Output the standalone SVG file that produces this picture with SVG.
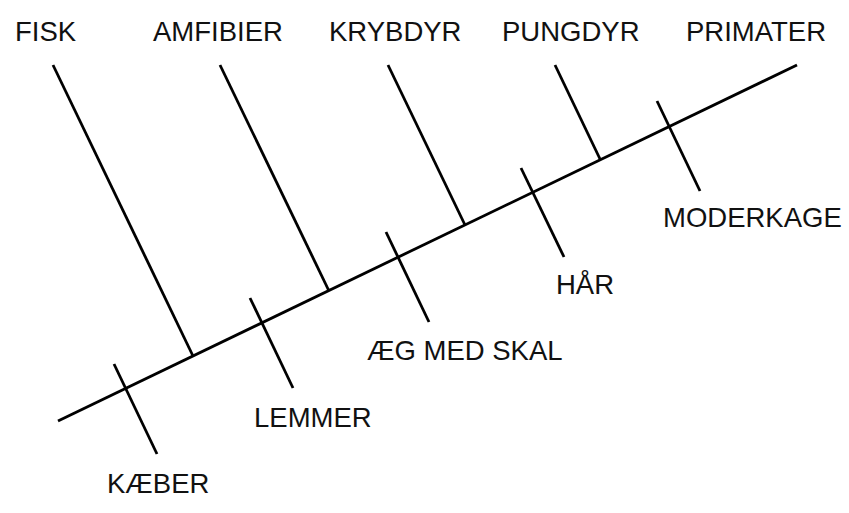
<svg xmlns="http://www.w3.org/2000/svg" width="849" height="513" viewBox="0 0 849 513">
<style>
.l{stroke:#000;stroke-width:2.8;stroke-linecap:butt;fill:none}
.t{font-family:"Liberation Sans",Arial,sans-serif;font-size:27.5px;fill:#111}
</style>
<rect width="849" height="513" fill="#fff"/>
<g id="connectors">
<line class="l" x1="58" y1="421" x2="797" y2="65"/>
<line class="l" x1="53" y1="65" x2="193" y2="356"/>
<line class="l" x1="220" y1="65" x2="329" y2="291"/>
<line class="l" x1="388" y1="65" x2="465" y2="225"/>
<line class="l" x1="555" y1="65" x2="600" y2="159"/>
<line class="l" x1="114" y1="364" x2="157" y2="454"/>
<line class="l" x1="250" y1="298" x2="293" y2="388"/>
<line class="l" x1="386" y1="232" x2="429" y2="322"/>
<line class="l" x1="521" y1="168" x2="564" y2="257"/>
<line class="l" x1="657" y1="101" x2="700" y2="191"/>
</g>
<g id="fisk"><text class="t" x="15" y="41">FISK</text></g>
<g id="amfibier"><text class="t" x="153" y="41">AMFIBIER</text></g>
<g id="krybdyr"><text class="t" x="329" y="41">KRYBDYR</text></g>
<g id="pungdyr"><text class="t" x="502" y="41">PUNGDYR</text></g>
<g id="primater"><text class="t" x="686" y="41">PRIMATER</text></g>
<g id="kaeber"><text class="t" x="107" y="493">KÆBER</text></g>
<g id="lemmer"><text class="t" x="254" y="427">LEMMER</text></g>
<g id="aeg"><text class="t" x="367" y="360">ÆG MED SKAL</text></g>
<g id="haar"><text class="t" x="556" y="294">HÅR</text></g>
<g id="moderkage"><text class="t" x="663" y="227">MODERKAGE</text></g>
</svg>
